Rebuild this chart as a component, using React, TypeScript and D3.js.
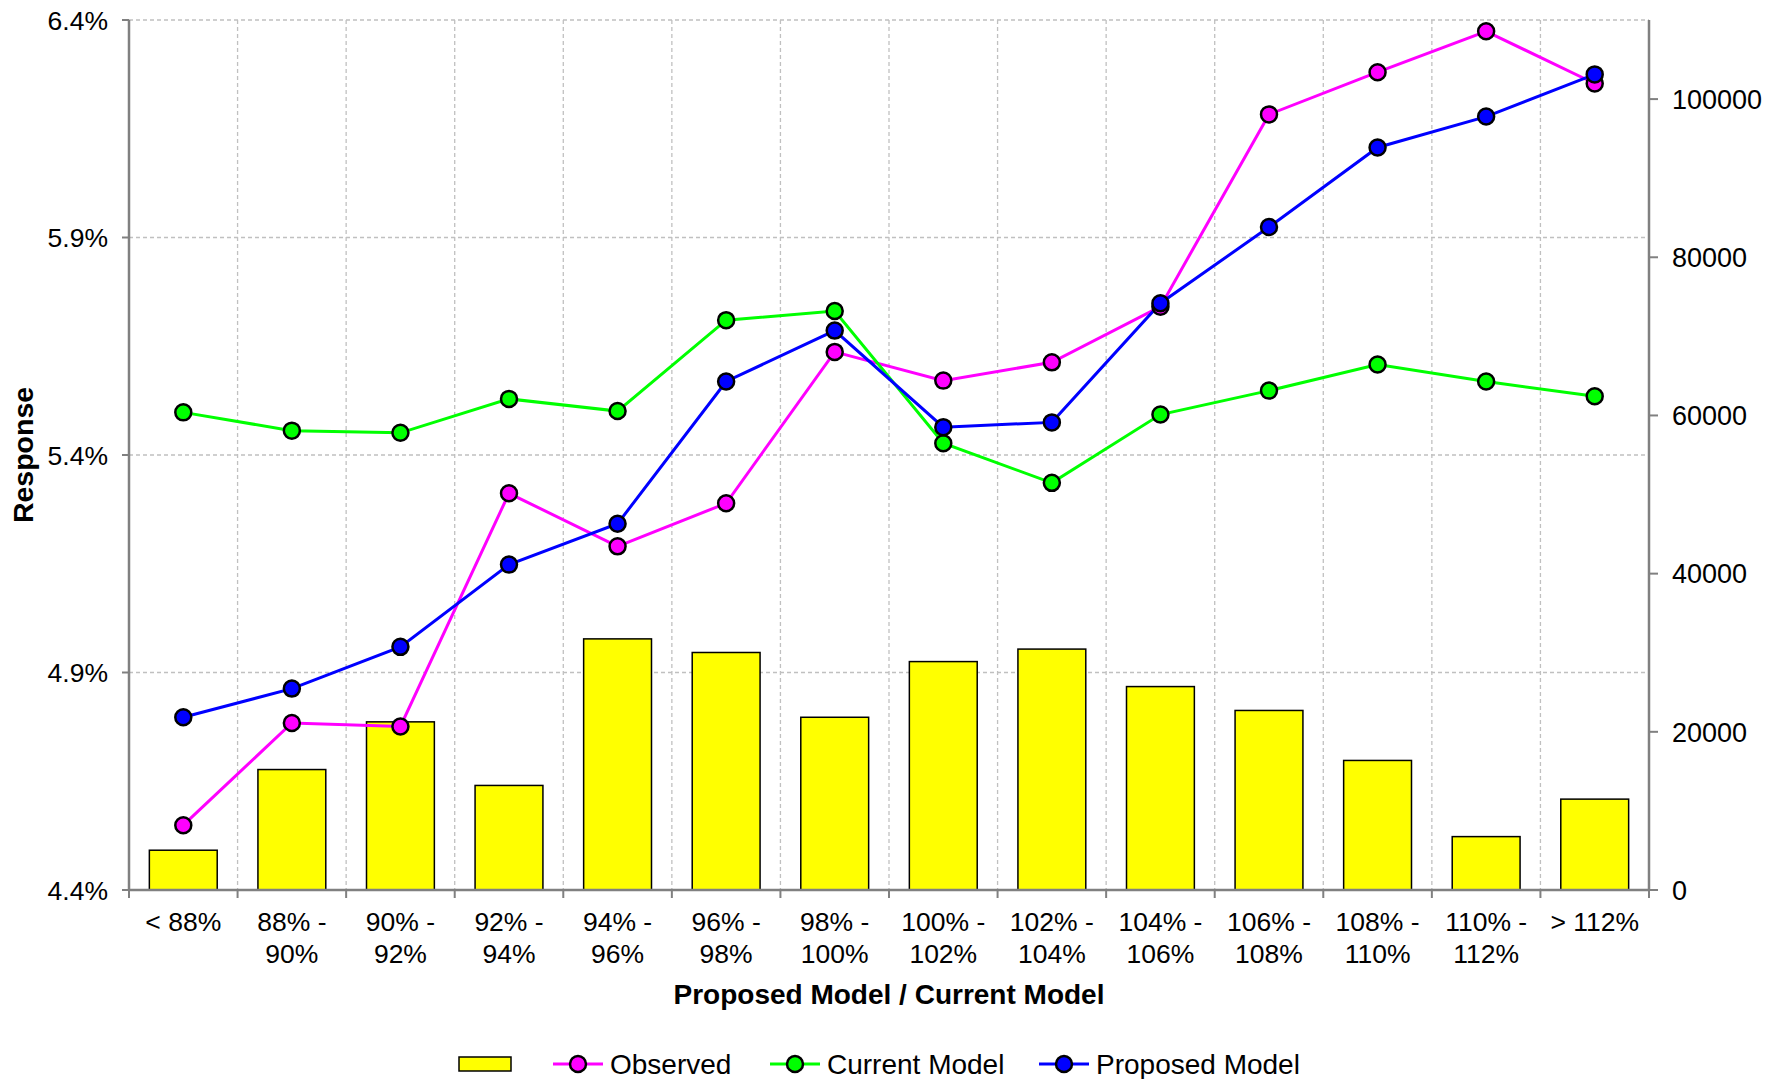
import React from "react";
import * as d3 from "d3";

const categories = [
  ["< 88%"], ["88% -", "90%"], ["90% -", "92%"], ["92% -", "94%"], ["94% -", "96%"],
  ["96% -", "98%"], ["98% -", "100%"], ["100% -", "102%"], ["102% -", "104%"],
  ["104% -", "106%"], ["106% -", "108%"], ["108% -", "110%"], ["110% -", "112%"], ["> 112%"],
];
const exposure = [5030, 15230, 21260, 13220, 31750, 30030, 21840, 28880, 30460, 25720, 22700, 16380, 6750, 11490];
const observed = [4.549, 4.784, 4.776, 5.312, 5.19, 5.289, 5.637, 5.571, 5.613, 5.741, 6.183, 6.28, 6.374, 6.254];
const currentModel = [5.498, 5.456, 5.451, 5.529, 5.501, 5.71, 5.731, 5.427, 5.336, 5.493, 5.548, 5.608, 5.569, 5.535];
const proposedModel = [4.797, 4.863, 4.959, 5.148, 5.242, 5.569, 5.686, 5.464, 5.475, 5.749, 5.924, 6.107, 6.178, 6.275];
const leftTicks = [4.4, 4.9, 5.4, 5.9, 6.4];
const rightTicks = [0, 20000, 40000, 60000, 80000, 100000];

const width = 1785;
const height = 1079;
const left = 129;
const right = 1649;
const top = 20;
const bottom = 890;
const font = "'Liberation Sans', Arial, sans-serif";

const series = [
  { name: "Observed", values: observed, color: "#ff00ff" },
  { name: "Current Model", values: currentModel, color: "#00ff00" },
  { name: "Proposed Model", values: proposedModel, color: "#0000ff" },
];

export default function App() {
  const x = d3.scaleBand<number>().domain(d3.range(categories.length)).range([left, right]);
  const bar = d3.scaleBand<number>().domain(d3.range(categories.length)).range([left, right]).paddingInner(0.375).paddingOuter(0.1875);
  const yL = d3.scaleLinear().domain([4.4, 6.4]).range([bottom, top]);
  const yR = d3.scaleLinear().domain([0, 110000]).range([bottom, top]);
  const cx = (i: number) => x(i)! + x.bandwidth() / 2;

  return (
    <svg width={width} height={height} style={{ position: "absolute", left: 0, top: 0, background: "#fff" }} fontFamily={font}>
      {/* grid */}
      {leftTicks.map((t) => (
        <line key={"h" + t} x1={left} x2={right} y1={yL(t)} y2={yL(t)} stroke="#c0c0c0" strokeWidth={1.3} strokeDasharray="4,3" />
      ))}
      {d3.range(1, categories.length).map((i) => (
        <line key={"v" + i} x1={x(i)} x2={x(i)} y1={top} y2={bottom} stroke="#c0c0c0" strokeWidth={1.3} strokeDasharray="4,3" />
      ))}

      {/* bars */}
      {exposure.map((v, i) => (
        <rect key={"b" + i} x={bar(i)} y={yR(v)} width={bar.bandwidth()} height={bottom - yR(v)} fill="#ffff00" stroke="#000" strokeWidth={1.5} />
      ))}

      {/* axes */}
      <line x1={left} x2={left} y1={top} y2={bottom} stroke="#808080" strokeWidth={2.5} />
      <line x1={right} x2={right} y1={top} y2={bottom} stroke="#808080" strokeWidth={2.5} />
      <line x1={left} x2={right} y1={bottom} y2={bottom} stroke="#808080" strokeWidth={2.5} />
      {leftTicks.map((t) => (
        <g key={"lt" + t}>
          <line x1={left - 7} x2={left} y1={yL(t)} y2={yL(t)} stroke="#808080" strokeWidth={2} />
          <text x={108} y={yL(t)} dy="0.36em" textAnchor="end" fontSize={26.5}>{t.toFixed(1) + "%"}</text>
        </g>
      ))}
      {rightTicks.map((t) => (
        <g key={"rt" + t}>
          <line x1={right} x2={right + 9} y1={yR(t)} y2={yR(t)} stroke="#808080" strokeWidth={2} />
          <text x={1672} y={yR(t)} dy="0.36em" textAnchor="start" fontSize={27}>{t}</text>
        </g>
      ))}
      {d3.range(0, categories.length + 1).map((i) => {
        const px = i === categories.length ? right : x(i)!;
        return <line key={"bt" + i} x1={px} x2={px} y1={bottom} y2={bottom + 8} stroke="#808080" strokeWidth={2} />;
      })}
      {categories.map((lines, i) => (
        <text key={"xl" + i} x={cx(i)} y={921} textAnchor="middle" fontSize={26.5}>
          {lines.map((l, j) => (
            <tspan key={j} x={cx(i)} dy={j === 0 ? "0.36em" : 32}>{l}</tspan>
          ))}
        </text>
      ))}
      <text x={(left + right) / 2} y={994} dy="0.36em" textAnchor="middle" fontSize={28} fontWeight="bold">Proposed Model / Current Model</text>
      <text transform={`translate(23,455) rotate(-90)`} textAnchor="middle" dy="0.36em" fontSize={28.5} fontWeight="bold">Response</text>

      {/* lines */}
      {series.map((s) => {
        const line = d3.line<number>().x((_, i) => cx(i)).y((d) => yL(d));
        return <path key={s.name} d={line(s.values)!} fill="none" stroke={s.color} strokeWidth={3} />;
      })}
      {series.map((s) =>
        s.values.map((v, i) => (
          <circle key={s.name + i} cx={cx(i)} cy={yL(v)} r={8} fill={s.color} stroke="#000" strokeWidth={2.5} />
        ))
      )}

      {/* legend */}
      <rect x={459} y={1057} width={52} height={14} fill="#ffff00" stroke="#000" strokeWidth={1.5} />
      {series.map((s, k) => {
        const lx = [553, 770, 1039][k];
        return (
          <g key={"lg" + s.name}>
            <line x1={lx} x2={lx + 50} y1={1064} y2={1064} stroke={s.color} strokeWidth={3} />
            <circle cx={lx + 25} cy={1064} r={8} fill={s.color} stroke="#000" strokeWidth={2.5} />
            <text x={lx + 57} y={1064} dy="0.36em" fontSize={28}>{s.name}</text>
          </g>
        );
      })}
    </svg>
  );
}
